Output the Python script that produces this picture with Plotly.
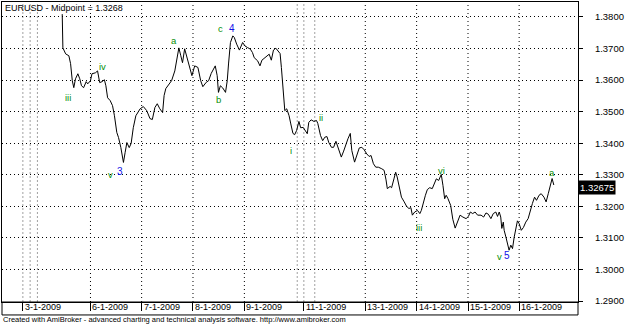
import plotly.graph_objects as go

# hourly bar index (0 = first bar of 3-1-2009) and EURUSD midpoint
bars = [18.4, 18.7, 20.0, 21.5, 22.3, 23.1, 23.8, 24.6, 25.7, 26.6, 27.4, 28.4, 29.6, 30.3, 31.6, 32.3,
        33.9, 34.9, 35.9, 37.0, 38.1, 38.8, 39.6, 40.8, 41.9, 42.8, 43.9, 44.7, 45.8, 47.0, 47.8, 48.6,
        49.7, 50.6, 51.6, 52.8, 54.8, 56.3, 57.9, 59.4, 60.5, 61.7, 62.8, 64.0, 65.3, 66.0, 66.8, 67.9,
        69.5, 71.0, 71.8, 72.9, 73.8, 74.6, 75.6, 76.9, 78.0, 79.0, 80.3, 81.8, 83.1, 84.1, 85.7, 86.8,
        88.0, 89.2, 89.9, 90.8, 91.4, 92.3, 93.4, 94.7, 95.5, 96.1, 97.0, 98.1, 98.8, 99.9, 101.2, 102.7,
        103.8, 105.0, 106.3, 107.3, 108.1, 109.7, 110.8, 111.7, 112.8, 114.0, 115.1, 116.1, 117.1, 118.2,
        119.3, 120.2, 120.8, 121.3, 121.7, 122.4, 123.3, 124.4, 125.2, 126.2, 127.0, 127.9, 129.0, 129.8,
        131.0, 132.1, 132.9, 133.6, 134.7, 136.0, 137.2, 137.8, 139.1, 140.1, 141.1, 142.1, 142.9, 144.2,
        145.2, 146.3, 147.2, 148.8, 149.9, 151.0, 151.9, 153.0, 153.7, 155.0, 156.1, 157.2, 158.4, 159.5,
        160.7, 161.8, 162.7, 163.8, 164.9, 166.1, 167.7, 168.8, 169.7, 170.3, 171.6, 172.3, 173.4, 174.2,
        174.9, 175.9, 176.9, 178.2, 179.3, 180.4, 181.3, 182.0, 183.1, 184.4, 185.5, 186.2, 187.0, 188.1,
        189.0, 190.1, 191.3, 192.4, 193.2, 194.3, 195.5, 196.3, 197.1, 197.8, 198.6, 199.9, 200.9, 202.0,
        203.2, 204.3, 205.6, 207.1, 208.2, 209.1, 210.2, 211.3, 212.5, 214.1, 215.3, 216.4, 217.5, 218.7,
        219.8, 221.0, 221.8, 222.6, 223.3, 223.8, 224.5, 224.9, 225.7, 226.5, 227.2, 228.0, 228.8, 229.6,
        230.3, 231.1, 231.9, 232.9, 233.9, 235.0, 236.1, 237.0, 238.1, 239.1, 240.0, 241.2, 242.2, 243.5,
        244.5, 245.5, 246.5, 247.3, 248.1]
prices = [1.3809, 1.3702, 1.3683, 1.3677, 1.3652, 1.3598, 1.3576, 1.3604, 1.3620, 1.3604, 1.3582, 1.3576,
          1.3595, 1.3588, 1.3598, 1.3620, 1.3623, 1.3629, 1.3592, 1.3595, 1.3601, 1.3582, 1.3544, 1.3535,
          1.3519, 1.3487, 1.3434, 1.3418, 1.3386, 1.3339, 1.3371, 1.3402, 1.3386, 1.3399, 1.3449, 1.3487,
          1.3509, 1.3516, 1.3503, 1.3478, 1.3475, 1.3513, 1.3525, 1.3509, 1.3497, 1.3551, 1.3573, 1.3582,
          1.3598, 1.3629, 1.3655, 1.3702, 1.3677, 1.3655, 1.3699, 1.3667, 1.3639, 1.3614, 1.3645, 1.3640,
          1.3598, 1.3579, 1.3593, 1.3598, 1.3621, 1.3635, 1.3645, 1.3614, 1.3561, 1.3582, 1.3575, 1.3561,
          1.3598, 1.3651, 1.3719, 1.3740, 1.3735, 1.3714, 1.3695, 1.3719, 1.3708, 1.3703, 1.3698, 1.3687,
          1.3671, 1.3661, 1.3645, 1.3663, 1.3670, 1.3677, 1.3682, 1.3663, 1.3695, 1.3701, 1.3690, 1.3684,
          1.3640, 1.3598, 1.3535, 1.3503, 1.3509, 1.3487, 1.3461, 1.3431, 1.3427, 1.3440, 1.3469, 1.3449,
          1.3450, 1.3440, 1.3430, 1.3466, 1.3474, 1.3469, 1.3472, 1.3463, 1.3424, 1.3408, 1.3419, 1.3421,
          1.3403, 1.3387, 1.3387, 1.3406, 1.3387, 1.3356, 1.3375, 1.3398, 1.3414, 1.3431, 1.3377, 1.3340,
          1.3361, 1.3385, 1.3387, 1.3379, 1.3366, 1.3358, 1.3361, 1.3335, 1.3324, 1.3324, 1.3319, 1.3314,
          1.3284, 1.3256, 1.3263, 1.3259, 1.3287, 1.3308, 1.3293, 1.3259, 1.3229, 1.3214, 1.3200, 1.3193,
          1.3196, 1.3172, 1.3182, 1.3187, 1.3177, 1.3187, 1.3209, 1.3235, 1.3253, 1.3259, 1.3256, 1.3277,
          1.3287, 1.3282, 1.3301, 1.3266, 1.3224, 1.3235, 1.3225, 1.3203, 1.3159, 1.3131, 1.3156, 1.3172,
          1.3166, 1.3161, 1.3168, 1.3182, 1.3177, 1.3182, 1.3172, 1.3172, 1.3166, 1.3179, 1.3175, 1.3161,
          1.3177, 1.3182, 1.3168, 1.3182, 1.3166, 1.3130, 1.3150, 1.3124, 1.3103, 1.3082, 1.3061, 1.3077,
          1.3066, 1.3103, 1.3130, 1.3154, 1.3145, 1.3124, 1.3133, 1.3150, 1.3161, 1.3187, 1.3209, 1.3229,
          1.3219, 1.3235, 1.3240, 1.3229, 1.3214, 1.3240, 1.3266, 1.3288, 1.32675]

# date labels (bar index of first bar of each day)
day_ticks = [0, 31.6, 55.5, 79.5, 103.5, 131.3, 160.0, 184.0, 208.0, 231.9]
day_labels = ["3-1-2009", "6-1-2009", "7-1-2009", "8-1-2009", "9-1-2009",
              "11-1-2009", "13-1-2009", "14-1-2009", "15-1-2009", "16-1-2009"]
dark_grid_days = [31.6, 55.5, 79.5, 103.5, 160.0, 184.0, 208.0, 231.9]
light_grid_days = [0, 3.4, 6.8, 128.2, 131.3, 136.4]

y_ticks = [1.29, 1.30, 1.31, 1.32, 1.33, 1.34, 1.35, 1.36, 1.37, 1.38]

# Elliott wave labels
wave_text = ["iii", "iv", "v", "3", "a", "b", "c", "4", "i", "ii", "iii", "vi", "v", "5", "a"]
wave_bar = [21.3, 37.1, 40.8, 45.5, 70.5, 91.4, 92.3, 97.9, 125.3, 139.5, 185.0, 195.8, 222.6, 226.0, 247.3]
wave_price = [1.3544, 1.3642, 1.3301, 1.3311, 1.3724, 1.3538, 1.3765, 1.3762, 1.3377, 1.3482,
              1.3134, 1.3314, 1.3042, 1.3045, 1.3307]
wave_major = [False, False, False, True, False, False, False, True, False, False, False, False, False, True, False]

last_value = prices[-1]

FONT = "Liberation Sans, Arial, sans-serif"
GREEN = "#088f08"
BLUE = "#1010e8"

fig = go.Figure()
fig.add_trace(go.Scatter(x=bars, y=prices, mode="lines",
                         line=dict(color="#000000", width=1), hoverinfo="skip"))

shapes = []
for d in dark_grid_days:
    shapes.append(dict(type="line", xref="x", yref="paper", x0=d, x1=d, y0=0, y1=1,
                       line=dict(color="#000000", width=1, dash="1px,3px"), layer="below"))
for d in light_grid_days:
    shapes.append(dict(type="line", xref="x", yref="paper", x0=d, x1=d, y0=0, y1=1,
                       line=dict(color="#a0a0a0", width=1, dash="2px,2px"), layer="below"))
# frame around the date strip
shapes.append(dict(type="rect", xref="paper", yref="paper", x0=0, x1=1, y0=-13 / 301, y1=0,
                   line=dict(color="#000000", width=1)))

annotations = []
for v, t in zip(day_ticks, day_labels):
    annotations.append(dict(x=v, y=0, xref="x", yref="paper", text=t, showarrow=False,
                            xanchor="left", yanchor="top", xshift=2, yshift=0,
                            borderpad=0, borderwidth=0,
                            font=dict(family=FONT, size=9, color="#000000")))
for t, b, p, major in zip(wave_text, wave_bar, wave_price, wave_major):
    annotations.append(dict(x=b, y=p, xref="x", yref="y", text=t, showarrow=False,
                            xanchor="center", yanchor="middle",
                            font=dict(family=FONT, size=10 if major else 9.5,
                                      color=BLUE if major else GREEN)))
annotations.append(dict(x=0, y=1, xref="paper", yref="paper", text="EURUSD - Midpoint = 1.3268",
                        showarrow=False, xanchor="left", yanchor="top", xshift=1, yshift=1,
                        font=dict(family=FONT, size=9, color="#000000")))
annotations.append(dict(x=1, y=last_value, xref="paper", yref="y", text=f"{last_value:.5f}",
                        showarrow=False, xanchor="left", yanchor="middle", yshift=-2,
                        bgcolor="#000000", borderpad=1,
                        font=dict(family=FONT, size=9.5, color="#ffffff")))
annotations.append(dict(x=0, y=-22 / 301, xref="paper", yref="paper",
                        text="Created with AmiBroker - advanced charting and technical analysis software. http://www.amibroker.com",
                        showarrow=False, xanchor="left", yanchor="bottom", xshift=1, yshift=0,
                        borderpad=0, borderwidth=0,
                        font=dict(family=FONT, size=7.5, color="#000000")))

fig.update_layout(
    width=625, height=324,
    margin=dict(l=1, r=44, t=1, b=22, pad=0),
    paper_bgcolor="#ffffff", plot_bgcolor="#ffffff",
    showlegend=False,
    shapes=shapes, annotations=annotations,
    xaxis=dict(range=[-9.745, 259.4], tickmode="array", tickvals=day_ticks,
               showticklabels=False, ticks="outside", ticklen=8, tickcolor="#000000",
               showgrid=False, zeroline=False, showline=True, linecolor="#000000",
               linewidth=1, mirror=True, fixedrange=True),
    yaxis=dict(range=[1.289684, 1.384737], side="right", tickmode="array", tickvals=y_ticks,
               tickformat=".4f", ticks="outside", ticklen=4, tickcolor="#000000",
               ticklabelstandoff=10,
               showgrid=True, gridcolor="#000000", griddash="1px,3px", gridwidth=1,
               zeroline=False, showline=True, linecolor="#000000", linewidth=1, mirror=True,
               tickfont=dict(family=FONT, size=9.5, color="#000000"), fixedrange=True),
)

fig.write_html("out.html", config={"displayModeBar": False})
